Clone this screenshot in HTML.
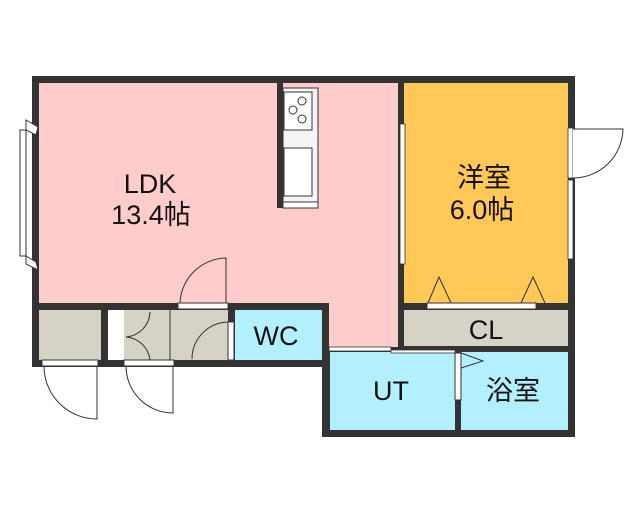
<!DOCTYPE html>
<html><head><meta charset="utf-8"><style>
html,body{margin:0;padding:0;background:#fff;}
svg{display:block}
text{font-family:"Liberation Sans","Noto Sans CJK JP",sans-serif;fill:#111;font-size:27px;text-anchor:middle}
</style></head><body>
<svg width="640" height="512" viewBox="0 0 640 512" xmlns="http://www.w3.org/2000/svg">
<rect x="32" y="76" width="543" height="234" fill="#333"/>
<rect x="32" y="303" width="297" height="64" fill="#333"/>
<rect x="322" y="303" width="253" height="134" fill="#333"/>
<rect x="39" y="83" width="359" height="220" fill="#ffcccc"/>
<rect x="329" y="300" width="69" height="47" fill="#ffcccc"/>
<rect x="404" y="83" width="164" height="220" fill="#ffc857"/>
<rect x="404" y="310" width="164" height="36" fill="#d6d3c6"/>
<rect x="330" y="352" width="125" height="78" fill="#b3f0ff"/>
<rect x="461" y="352" width="107" height="78" fill="#b3f0ff"/>
<rect x="235" y="310" width="87" height="50" fill="#b3f0ff"/>
<rect x="39" y="310" width="62" height="50" fill="#d6d3c6"/>
<rect x="108" y="310" width="16" height="50" fill="#fff"/>
<rect x="124" y="310" width="104" height="50" fill="#d6d3c6"/>
<line x1="170" y1="310" x2="170" y2="360" stroke="#333" stroke-width="1"/>
<rect x="277" y="83" width="6" height="125" fill="#333"/>
<rect x="283" y="88" width="35" height="114" fill="#f4f4f4" stroke="#333" stroke-width="1"/>
<rect x="284" y="92" width="28" height="38" fill="#fff" stroke="#333" stroke-width="1"/>
<circle cx="302" cy="101" r="4" fill="#fff" stroke="#333"/>
<circle cx="293" cy="110" r="4" fill="#fff" stroke="#333"/>
<circle cx="302" cy="119" r="4" fill="#fff" stroke="#333"/>
<rect x="284" y="148" width="28" height="48" fill="#fff" stroke="#333" stroke-width="1"/>
<rect x="283" y="202" width="35" height="6" fill="#fff" stroke="#333" stroke-width="1"/>
<rect x="20" y="130" width="6" height="126" fill="#fff" stroke="#333"/>
<path d="M26 120 L38 127 L36 135 L26 130Z M26 256 L36 262 L38 270 L26 264Z" fill="#fff" stroke="#333"/>
<rect x="400" y="124" width="5" height="140" fill="#fff" stroke="#333" stroke-width="0.8"/>
<rect x="568" y="128" width="5" height="50" fill="#fff" stroke="#333" stroke-width="0.8"/>
<rect x="568" y="180" width="5" height="79" fill="#fff" stroke="#333" stroke-width="0.8"/>
<path d="M573 129 L623 129 A50 50 0 0 1 573 178" fill="#fff" stroke="#333"/>
<rect x="427" y="303" width="109" height="6" fill="#fff" stroke="#333"/>
<path d="M428 303 L439 277 L451 303 M521 303 L533 277 L545 303" fill="none" stroke="#333"/>
<rect x="178" y="303" width="50" height="6" fill="#fff" stroke="#333"/>
<path d="M180 303 A47 47 0 0 1 226 258 L226 303" fill="none" stroke="#333"/>
<rect x="228" y="322" width="6" height="38" fill="#fff" stroke="#333"/>
<path d="M192 359 A37 37 0 0 1 228 322" fill="none" stroke="#333"/>
<path d="M126 337 A26 26 0 0 0 150 312 M126 337 A26 26 0 0 1 150 360" fill="none" stroke="#333"/>
<rect x="42" y="360" width="56" height="6" fill="#fff" stroke="#333"/>
<path d="M44 366 A53 53 0 0 0 97 419 L97 366" fill="none" stroke="#333"/>
<rect x="124" y="360" width="50" height="6" fill="#fff" stroke="#333"/>
<path d="M126 366 A47 47 0 0 0 173 413 L173 366" fill="none" stroke="#333"/>
<rect x="329" y="347" width="62" height="4" fill="#fff" stroke="#333" stroke-width="0.8"/>
<rect x="391" y="350" width="64" height="3" fill="#fff" stroke="#333" stroke-width="0.8"/>
<rect x="455" y="353" width="6" height="47" fill="#fff" stroke="#333"/>
<path d="M461 353 L483 361 L461 368" fill="none" stroke="#333"/>
<text x="150" y="193">LDK</text>
<text x="151" y="224">13.4帖</text>
<text x="484" y="187">洋室</text>
<text x="482" y="219">6.0帖</text>
<text x="486" y="339">CL</text>
<text x="276" y="345">WC</text>
<text x="391" y="400">UT</text>
<text x="513" y="400">浴室</text>
</svg>
</body></html>
